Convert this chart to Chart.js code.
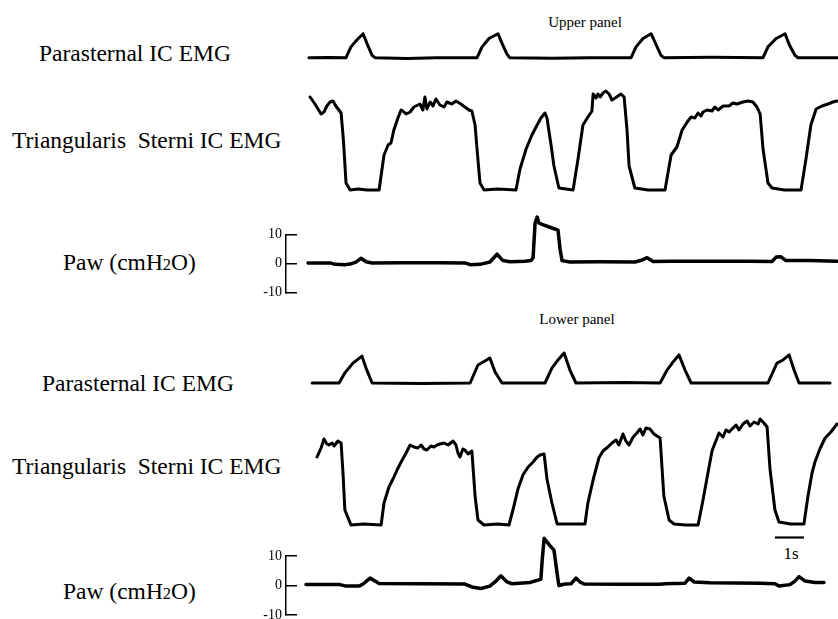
<!DOCTYPE html>
<html><head><meta charset="utf-8">
<script src="https://cdn.jsdelivr.net/npm/chart.js@4.4.0/dist/chart.umd.min.js"></script>
<style>
html,body{margin:0;padding:0;background:#fff;}
#wrap{position:relative;width:838px;height:619px;overflow:hidden;background:#fff;}
canvas{position:absolute;}
.lbl{position:absolute;font-family:"Liberation Serif","Times New Roman",serif;font-size:23.5px;line-height:23.5px;color:#000;white-space:pre;}
.ttl{position:absolute;font-family:"Liberation Serif","Times New Roman",serif;font-size:15px;line-height:15px;color:#000;white-space:pre;transform:translateX(-50%);}
.sub{font-size:70%;}
</style></head>
<body><div id="wrap">
<div class="ttl" style="left:585px;top:15px">Upper panel</div>
<div class="ttl" style="left:577px;top:312px">Lower panel</div>
<div class="lbl" style="left:39px;top:42px">Parasternal IC EMG</div>
<div class="lbl" style="left:12px;top:129px">Triangularis  Sterni IC EMG</div>
<div class="lbl" style="left:63px;top:251px">Paw (cmH<span class="sub">2</span>O)</div>
<div class="lbl" style="left:42px;top:372px">Parasternal IC EMG</div>
<div class="lbl" style="left:12px;top:455px">Triangularis  Sterni IC EMG</div>
<div class="lbl" style="left:63px;top:580px">Paw (cmH<span class="sub">2</span>O)</div>
<div class="ttl" style="left:791px;top:545px;font-size:17px;line-height:17px">1s</div>
<canvas id="c1"></canvas><canvas id="c2"></canvas><canvas id="c3"></canvas>
<canvas id="c4"></canvas><canvas id="c5"></canvas><canvas id="c6"></canvas>
</div>
<script>
// ---------- DATA: [time (s), value]; EMG in arbitrary units, Paw in cmH2O ----------
const upperParasternal = [[0.10,0],[0.80,0.01],[1.38,0],[1.55,0.45],[1.76,0.75],[1.97,1.0],[2.10,0.6],[2.28,0.1],[2.38,0],[3.50,-0.03],[4.50,0],[5.90,0],[6.07,0.45],[6.31,0.8],[6.62,1.0],[6.76,0.6],[6.93,0.15],[7.03,0],[8.50,-0.02],[9.80,0],[11.21,0],[11.38,0.45],[11.62,0.8],[11.90,1.0],[12.07,0.55],[12.24,0.1],[12.34,0],[14.00,0.02],[15.76,0],[15.93,0.45],[16.21,0.8],[16.52,1.0],[16.66,0.55],[16.86,0.1],[16.97,0],[18.34,0]];

const upperTriangularis = [[0.14,0.93],[0.31,0.86],[0.52,0.76],[0.62,0.78],[0.72,0.84],[0.83,0.88],[0.93,0.89],[1.03,0.84],[1.21,0.77],[1.29,0.5],[1.38,0.07],[1.52,0],[1.80,0.01],[2.10,0],[2.52,0],[2.69,0.35],[2.83,0.45],[2.93,0.47],[3.03,0.60],[3.17,0.72],[3.28,0.80],[3.34,0.79],[3.45,0.76],[3.59,0.78],[3.72,0.83],[3.86,0.85],[3.93,0.86],[4.03,0.80],[4.10,0.93],[4.17,0.81],[4.28,0.88],[4.38,0.84],[4.48,0.91],[4.62,0.85],[4.76,0.83],[4.86,0.88],[5.03,0.86],[5.17,0.89],[5.34,0.86],[5.48,0.83],[5.62,0.80],[5.72,0.79],[5.83,0.65],[5.93,0.3],[6.00,0.07],[6.14,0],[6.60,0.01],[7.24,0],[7.38,0.21],[7.59,0.41],[7.79,0.55],[7.97,0.65],[8.10,0.72],[8.24,0.77],[8.31,0.72],[8.45,0.45],[8.55,0.24],[8.72,0.02],[9.21,0],[9.38,0.31],[9.55,0.65],[9.70,0.72],[9.86,0.79],[9.90,0.96],[10.00,0.92],[10.07,0.96],[10.14,0.93],[10.24,0.97],[10.34,0.99],[10.45,0.96],[10.55,0.90],[10.66,0.92],[10.76,0.94],[10.86,0.96],[10.97,0.93],[11.07,0.6],[11.14,0.24],[11.34,0.02],[11.80,0],[12.38,0],[12.59,0.35],[12.79,0.43],[12.97,0.60],[13.17,0.69],[13.28,0.73],[13.41,0.72],[13.52,0.77],[13.62,0.74],[13.69,0.78],[13.83,0.80],[14.00,0.79],[14.10,0.83],[14.21,0.80],[14.38,0.84],[14.59,0.84],[14.72,0.87],[14.86,0.86],[15.07,0.88],[15.24,0.89],[15.41,0.88],[15.55,0.83],[15.66,0.76],[15.76,0.41],[15.93,0.07],[16.07,0.02],[16.50,0],[17.07,0],[17.24,0.31],[17.41,0.65],[17.59,0.81],[17.79,0.84],[18.00,0.86],[18.17,0.88],[18.31,0.89]];

const upperPaw = [[0.07,0.2],[0.83,0.2],[1.00,-0.3],[1.34,-0.4],[1.52,-0.2],[1.72,0.5],[1.90,1.8],[2.07,0.6],[2.28,0.2],[3.24,0.3],[4.62,0.3],[5.48,0.2],[5.66,-0.4],[6.00,-0.3],[6.34,0.5],[6.59,3.2],[6.79,1.0],[7.03,0.6],[7.55,0.8],[7.76,1.0],[7.83,2],[7.90,14],[7.97,16],[8.03,14],[8.14,13.5],[8.41,12.5],[8.69,11.5],[8.76,5],[8.83,1],[9.10,0.5],[10.14,0.6],[11.34,0.5],[11.59,1.2],[11.76,2.0],[11.97,0.7],[12.55,0.8],[15.31,0.8],[16.07,0.7],[16.21,2.2],[16.38,2.3],[16.55,1.0],[17.38,1.0],[18.31,0.8]];

const lowerParasternal = [[0.21,0],[1.14,0],[1.34,0.42],[1.62,0.83],[1.93,1.12],[2.07,0.62],[2.28,0],[4.00,-0.02],[5.66,0],[5.93,0.75],[6.17,0.92],[6.34,1.04],[6.52,0.46],[6.76,0],[8.24,0],[8.48,0.62],[8.69,0.96],[8.90,1.25],[9.10,0.54],[9.31,0],[11.00,0.02],[12.21,0],[12.45,0.54],[12.66,0.88],[12.86,1.17],[13.07,0.54],[13.28,0],[15.93,0],[16.24,0.83],[16.45,0.96],[16.66,1.17],[16.83,0.54],[17.00,0],[18.07,0]];

const lowerTriangularis = [[0.38,0.68],[0.52,0.77],[0.62,0.86],[0.72,0.81],[0.79,0.80],[0.90,0.82],[0.97,0.79],[1.10,0.84],[1.21,0.82],[1.28,0.5],[1.34,0.15],[1.55,0],[2.00,0.01],[2.59,0],[2.69,0.22],[2.86,0.38],[3.00,0.46],[3.14,0.55],[3.28,0.63],[3.45,0.72],[3.59,0.80],[3.72,0.78],[3.86,0.77],[3.97,0.80],[4.07,0.76],[4.17,0.75],[4.31,0.79],[4.41,0.78],[4.52,0.80],[4.62,0.81],[4.76,0.82],[4.90,0.80],[5.07,0.84],[5.17,0.80],[5.24,0.72],[5.31,0.68],[5.41,0.76],[5.48,0.75],[5.59,0.71],[5.72,0.74],[5.83,0.29],[5.93,0.05],[6.14,0],[6.60,0.01],[7.00,0],[7.17,0.19],[7.31,0.36],[7.48,0.50],[7.66,0.58],[7.83,0.63],[7.97,0.68],[8.07,0.70],[8.21,0.71],[8.31,0.46],[8.48,0.22],[8.66,0.01],[9.10,0.01],[9.62,0.01],[9.72,0.22],[9.90,0.45],[10.10,0.67],[10.24,0.74],[10.41,0.78],[10.55,0.82],[10.69,0.85],[10.79,0.80],[10.93,0.91],[11.03,0.84],[11.14,0.80],[11.28,0.88],[11.41,0.92],[11.52,0.96],[11.62,0.90],[11.72,0.97],[11.86,0.96],[12.00,0.91],[12.10,0.89],[12.21,0.87],[12.34,0.29],[12.52,0.05],[12.69,0.01],[13.10,0],[13.52,0],[13.69,0.25],[13.86,0.52],[14.00,0.74],[14.24,0.92],[14.38,0.88],[14.48,0.95],[14.59,0.93],[14.69,0.96],[14.83,1.00],[14.93,0.95],[15.07,1.01],[15.21,1.04],[15.31,0.99],[15.45,1.03],[15.59,1.01],[15.66,1.06],[15.79,1.02],[15.90,0.98],[16.00,0.56],[16.17,0.15],[16.31,0.03],[16.70,0.01],[17.17,0.01],[17.31,0.29],[17.45,0.52],[17.55,0.63],[17.72,0.76],[17.90,0.87],[18.10,0.93],[18.31,1.01]];

const lowerPaw = [[0.00,0.3],[1.17,0.3],[1.38,-0.2],[1.83,-0.2],[1.97,0.5],[2.21,2.5],[2.38,1.5],[2.52,0.7],[3.93,0.6],[5.48,0.5],[5.72,-0.5],[6.03,-1.0],[6.34,-0.2],[6.55,1.5],[6.72,3.3],[6.93,1.2],[7.10,0.6],[7.72,1.0],[8.00,1.8],[8.10,2.2],[8.14,8],[8.21,16],[8.41,13.5],[8.55,12],[8.66,4],[8.72,0],[8.93,0.5],[9.14,0.6],[9.31,2.5],[9.45,1.2],[9.59,0.5],[10.83,0.4],[12.21,0.4],[12.38,0.6],[13.07,0.8],[13.21,2.5],[13.38,1.2],[13.93,0.9],[15.66,0.8],[16.17,0.6],[16.31,-0.2],[16.69,0.3],[16.86,1.5],[17.00,3.0],[17.21,1.5],[17.55,1.0],[17.86,1.0]];

const pawTicks = [10, 0, -10];
const scaleBarStart = 16.17;   // s
const scaleBarLength = 1;      // s

// ---------- LAYOUT ----------
const PX_PER_S = 29, T0_PX = 306, AREA_LEFT = 286, AREA_RIGHT = 838;
const xMin = (AREA_LEFT - T0_PX) / PX_PER_S, xMax = (AREA_RIGHT - T0_PX) / PX_PER_S;
const PAW_CANVAS_LEFT = 240, PAW_PAD_BOTTOM = 26;
const SCALE_BAR_Y = 537.5;

const toPts = arr => arr.map(d => ({x: d[0], y: d[1]}));

const panels = [
  {id:'c1', kind:'emg', series:upperParasternal, top:20, height:50, zeroPx:57.7, unitPx:24, lw:3},
  {id:'c2', kind:'emg', series:upperTriangularis, top:80, height:120, zeroPx:190, unitPx:100, lw:3},
  {id:'c3', kind:'paw', series:upperPaw, top:200, zeroPx:263.5, unitPx:2.9, lw:3.5},
  {id:'c4', kind:'emg', series:lowerParasternal, top:340, height:55, zeroPx:383, unitPx:24, lw:3},
  {id:'c5', kind:'emg', series:lowerTriangularis, top:405, height:130, zeroPx:525, unitPx:100, lw:3},
  {id:'c6', kind:'paw', series:lowerPaw, top:525, zeroPx:585.5, unitPx:2.95, lw:3.5, scaleBar:true}
];

const scaleBarPlugin = {
  id:'scaleBar',
  afterDraw(chart, args, opts) {
    if (!opts || !opts.enabled) return;
    const xs = chart.scales.x, ctx = chart.ctx;
    const x1 = xs.getPixelForValue(scaleBarStart), x2 = xs.getPixelForValue(scaleBarStart + scaleBarLength);
    ctx.save(); ctx.strokeStyle = '#000'; ctx.lineWidth = 2.2;
    ctx.beginPath(); ctx.moveTo(x1, opts.y); ctx.lineTo(x2, opts.y); ctx.stroke(); ctx.restore();
  }
};

panels.forEach(p => {
  const cv = document.getElementById(p.id);
  const left = p.kind === 'paw' ? PAW_CANVAS_LEFT : AREA_LEFT;
  const w = AREA_RIGHT - left;
  const h = p.kind === 'paw' ? Math.ceil(p.zeroPx + 10 * p.unitPx + PAW_PAD_BOTTOM - p.top) : p.height;
  cv.width = w; cv.height = h;
  cv.style.left = left + 'px'; cv.style.top = p.top + 'px';
  cv.style.width = w + 'px'; cv.style.height = h + 'px';

  const ds = {data: toPts(p.series), borderColor:'#000', borderWidth:p.lw, pointRadius:0, tension:0,
              fill:false, clip:false, borderJoinStyle:'round', borderCapStyle:'round'};
  let yScale, padding;
  if (p.kind === 'emg') {
    const max = (p.zeroPx - p.top) / p.unitPx;
    const min = max - h / p.unitPx;
    yScale = {type:'linear', min:min, max:max, display:false};
    padding = 0;
  } else {
    const padTop = (p.zeroPx - 10 * p.unitPx) - p.top;
    const padBottom = p.top + h - (p.zeroPx + 10 * p.unitPx);
    padding = {top:padTop, bottom:padBottom, left:0, right:0};
    yScale = {
      type:'linear', min:-10, max:10, position:'left',
      afterFit: s => { s.width = AREA_LEFT - PAW_CANVAS_LEFT; },
      afterBuildTicks: s => { s.ticks = pawTicks.map(v => ({value:v})); },
      ticks:{padding:15, color:'#000', font:{family:'"Liberation Serif", "Times New Roman", serif', size:14}},
      grid:{display:true, drawOnChartArea:false, drawTicks:true, tickLength:-11, color:'#000', lineWidth:1.5},
      border:{display:true, color:'#000', width:1.5}
    };
  }
  new Chart(cv.getContext('2d'), {
    type:'line',
    data:{datasets:[ds]},
    options:{
      responsive:false, animation:false, devicePixelRatio:1, events:[],
      layout:{padding:padding},
      plugins:{legend:{display:false}, tooltip:{enabled:false},
               scaleBar:{enabled:!!p.scaleBar, y:SCALE_BAR_Y - p.top}},
      scales:{x:{type:'linear', min:xMin, max:xMax, display:false}, y:yScale}
    },
    plugins:[scaleBarPlugin]
  });
});
</script>
</body></html>
